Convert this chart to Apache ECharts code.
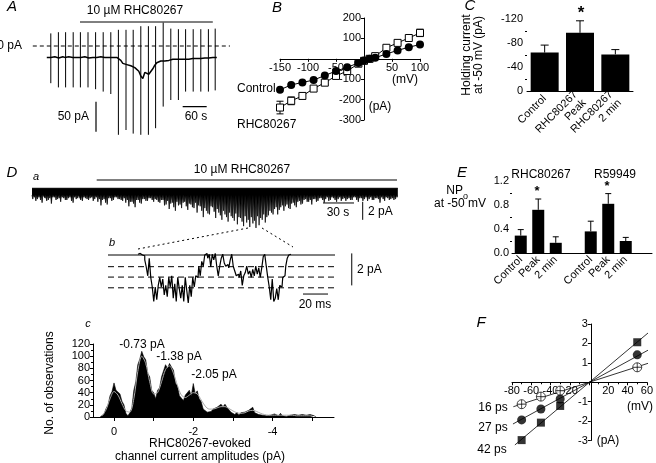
<!DOCTYPE html>
<html><head><meta charset="utf-8">
<script src="https://cdn.jsdelivr.net/npm/echarts@6/dist/echarts.min.js"></script>
<style>html,body{margin:0;padding:0;background:#fff}#c{width:656px;height:463px}</style>
</head><body><div id="c"></div>
<script>
const FONT = '"Liberation Sans", Arial, Helvetica, sans-serif';

// ---------- Panel A : holding current trace (s, pA) ----------
const aSpikeTimes  = [57,76,94,113,131,150,169,188,207,226,245,263,282,301,319,338,357,376,394,413,432,451,468];
const aSpikeTop    = [21,23,23,23,23,23,23,23,23,27,27,27,33,33,33,39,29,28,28,28,28,28,29];
const aSpikeBottom = [-62,-69,-69,-69,-69,-69,-72,-76,-80,-148,-140,-146,-148,-148,-137,-101,-90,-90,-76,-76,-76,-76,-74];
const aTraceT0 = 47, aTraceDt = 5;
const aTrace = [-19,-18,-19,-19,-18,-19,-20,-19,-18,-19,-19,-18,-19,-19,-20,-19,-18,-19,-19,-18,-19,-20,-19,-19,-18,-19,-19,-18,-19,-19,-20,-19,-18,-19,-19,-19,
  -20,-24,-29,-26,-31,-28,-33,-30,-36,-34,-42,-50,-54,-44,-41,-47,-50,-38,-32,-28,-26,-25,-24,-25,-23,-24,-23,-22,-23,-22,
  -23,-22,-21,-22,-21,-22,-21,-21,-20,-21,-20,-21,-20,-20,-21,-20,-20,-19,-20,-19];

// ---------- Panel B : I-V (mV, pA) ----------
const bVoltage   = [-150,-130,-110,-90,-70,-50,-30,-10,0,10,20,40,60,80,100];
const bControl   = [-152,-128,-116,-104,-82,-60,-42,-20,-8,0,5,24,41,57,70];
const bControlErr= [6,6,5,5,5,5,4,4,3,3,3,4,4,5,6];
const bRHC       = [-239,-206,-182,-146,-117,-84,-60,-24,-10,0,13,54,78,102,127];
const bRHCErr    = [31,19,15,8,8,8,8,6,5,4,5,8,8,10,18];

// ---------- Panel C : holding current at -50 mV ----------
const cCategories = ['Control', 'RHC80267\nPeak', 'RHC80267\n2 min'];
const cValues = [-64, -97, -61];
const cErrors = [12.5, 20, 8];

// ---------- Panel D a : single-channel trace (s, pA) ----------
const daBin = 3, daTop = 0.3, daBand = -0.45;
const daMin = [-0.9,-1.1,-0.7,-1.3,-0.8,-1.0,-1.4,-0.7,-0.9,-1.2,-0.8,
 -1.0,-0.7,-1.3,-0.9,-0.6,-1.1,-0.8,-1.0,-0.7,-0.9,
 -1.2,-1.6,-0.9,-1.5,-0.8,-1.0,-0.7,-0.9,-1.1,-1.3,
 -1.7,-1.2,-1.8,-1.0,-1.4,-0.9,-1.1,-0.8,-1.2,-1.0,
 -1.3,-1.0,-1.5,-2.0,-1.3,-2.2,-1.6,-1.9,-1.2,-2.1,
 -1.5,-1.9,-2.4,-1.7,-2.9,-2.2,-2.6,-1.8,-3.0,-2.4,
 -3.2,-2.6,-3.4,-2.8,-3.3,-3.7,-3.0,-3.9,-3.5,-4.0,
 -3.6,-4.1,-3.8,-3.2,-3.5,-2.7,-2.4,-2.0,-2.6,-1.8,
 -2.2,-1.5,-2.0,-1.3,-1.8,-1.1,-1.4,-0.9,-1.2,-1.5,
 -0.9,-1.1,-0.8,-1.3,-0.7,-1.0,-0.8,-1.2,-0.7,-0.9,
 -1.1,-0.8,-1.0,-0.7,-1.2,-0.8,-0.9,-1.1,-0.7,-1.0,-0.8,-1.3,-0.9,-0.7,-1.0,-0.8,-0.9];
const daMin2 = [-0.7,-0.9,-1.0,-0.6,-1.1,-0.8,-0.7,-1.0,-0.8,-0.7,-1.0,
 -0.8,-1.1,-0.7,-0.8,-1.0,-0.7,-0.9,-0.8,-1.1,-0.7,
 -0.9,-1.0,-1.3,-0.8,-1.1,-0.7,-0.9,-1.0,-0.8,-1.0,
 -1.2,-1.4,-1.0,-1.3,-0.9,-1.1,-0.8,-1.0,-0.9,-1.2,
 -1.0,-1.6,-1.1,-1.4,-1.8,-1.2,-1.5,-1.3,-1.7,-1.4,
 -1.8,-1.3,-1.6,-2.2,-1.9,-2.5,-1.7,-2.3,-2.0,-2.7,
 -2.2,-2.9,-2.4,-3.0,-2.5,-2.9,-3.4,-2.8,-3.2,-2.9,
 -3.3,-2.8,-3.0,-2.6,-2.9,-2.2,-2.6,-1.8,-2.1,-1.6,
 -1.7,-1.9,-1.4,-1.6,-1.2,-1.5,-1.0,-1.2,-1.0,-0.9,
 -1.2,-0.8,-1.0,-0.9,-1.1,-0.7,-1.0,-0.9,-1.1,-0.8,
 -0.9,-1.0,-0.7,-1.0,-0.8,-1.1,-0.7,-0.9,-1.0,-0.8,-0.9,-0.7,-1.1,-0.8,-0.9,-1.0,-0.7];

// ---------- Panel D b : expanded trace (ms, pA) ----------
const dbT0 = 24, dbDt = 1.2;
const dbTrace = [0.05,0.1,0.05,0.0,-0.05,-0.3,-0.75,-1.3,-0.2,-1.4,
 -2.0,-2.9,-2.0,-2.8,-1.9,-1.4,-2.0,-1.5,-2.5,-1.9,
 -2.6,-1.4,-2.0,-1.3,-2.7,-1.8,-2.9,-1.4,-2.1,-2.7,
 -1.9,-2.9,-1.4,-2.2,-3.0,-1.9,-2.6,-1.4,-2.0,-1.3,
 -1.4,-0.7,-1.3,-0.4,-0.7,0.0,0.1,-0.2,0.05,-0.75,
 0.05,-0.3,0.1,-0.7,-1.3,-0.7,-0.2,0.05,-0.5,-0.7,
 -0.6,-0.8,-0.3,0.05,-0.7,-1.0,-1.3,-1.2,-1.4,-1.0,
 -1.9,-1.3,-1.1,-0.7,-1.2,-1.0,-1.4,-0.9,-1.3,-0.7,
 -1.2,-0.8,-1.4,-0.8,-0.1,0.05,-0.7,-1.4,-2.0,-2.8,
 -1.5,-2.9,-2.7,-2.1,-2.8,-1.9,-2.0,-1.4,-1.3,-0.7,
 -0.2,0.0,0.05];
const dbLevels = [0, -0.73, -1.38, -2.05];
const dbLevelEnd = 181.6;

// ---------- Panel D c : amplitude histogram ----------
const histStart = 0.35, histStep = -0.05;
const histCounts = [0,3,5,14,20,35,42,56,44,41,
 38,26,20,6,2,7,15,44,58,86,
 95,108,99,94,72,66,44,40,30,44,
 48,66,68,86,80,88,82,77,56,51,
 35,34,27,36,33,44,35,55,38,43,
 30,25,13,14,8,11,9,13,11,16,
 15,21,17,21,16,18,8,7,4,8,
 3,7,4,8,6,11,10,16,7,8,
 4,6,3,5,2,4,3,2,5,3,
 2,6,2,5,1,4,3,2,4,1,
 3,1,4,2,3,2,4,1,2,0];
const fitStart = 0.3, fitStep = -0.1;
const fitCounts = [2,12,30,42,36,22,10,8,30,75,100,88,58,38,40,58,78,84,72,52,36,32,36,40,38,28,18,13,13,15,17,17,14,10,7,6,7,10,11,9,6,4,3,3,3,3,3,3,3,2,2,2,2,2];
const histTickLabels = [0, -2, -4];
const histTicks = [0, -1, -2, -3, -4, -5];

// ---------- Panel E : NPo ----------
const eCategories = ['Control','Peak','2 min','','Control','Peak','2 min',''];
const eValues = [0.29,0.72,0.17,null,0.36,0.82,0.20,null];
const eErrors = [0.10,0.18,0.10,null,0.17,0.17,0.06,null];

// ---------- Panel F : unitary I-V ----------
const fVoltage = [-70,-50,-30,50];
const f42 = [-2.98,-2.08,-1.22,2.06];
const f27 = [-1.94,-1.38,-0.86,1.41];
const f16 = [-1.13,-0.74,-0.43,0.77];
const fFit42 = [[-77,-3.23],[61.5,2.55]];
const fFit27 = [[-79,-2.15],[61.5,1.66]];
const fFit16 = [[-78.6,-1.26],[61.5,0.98]];

// ================= build =================
function mk(o){
  const b = {axisLine:{onZero:false, lineStyle:{color:'#000',width:1}}, axisTick:{length:3,lineStyle:{color:'#000'}},
    axisLabel:{color:'#000',fontSize:11,fontFamily:FONT}, splitLine:{show:false}, minorTick:{show:false}};
  for (const k in o){ if (b[k] && typeof o[k]==='object' && !Array.isArray(o[k])) b[k]=Object.assign(b[k],o[k]); else b[k]=o[k]; }
  return b;
}
const hide0 = v => (Math.abs(v) < 1e-9 ? '' : String(v));
function seg(i, data, opts){ return Object.assign({type:'line', xAxisIndex:i, yAxisIndex:i, data, symbol:'none', silent:true,
  lineStyle:{color:'#000', width:1}, z:3}, opts||{}); }
function errSeries(i, data, cap, topOnly, z){
  return {type:'custom', xAxisIndex:i, yAxisIndex:i, data, silent:true, z:z||2,
    renderItem:(p, api)=>{
      const x=api.value(0), a=api.value(1), b=api.value(2);
      const p1=api.coord([x,a]), p2=api.coord([x,b]);
      const st={stroke:'#000', lineWidth:1};
      const ch=[{type:'line', shape:{x1:p1[0],y1:p1[1],x2:p2[0],y2:p2[1]}, style:st}];
      if (cap>0){
        if(!topOnly) ch.push({type:'line', shape:{x1:p1[0]-cap,y1:p1[1],x2:p1[0]+cap,y2:p1[1]}, style:st});
        ch.push({type:'line', shape:{x1:p2[0]-cap,y1:p2[1],x2:p2[0]+cap,y2:p2[1]}, style:st});
      }
      return {type:'group', children:ch};
    }};
}

const grids = [
  {left:28, top:19, width:208, height:120},   // A
  {left:280, top:18, width:140, height:102},  // B
  {left:527, top:19, width:106, height:72},   // C
  {left:32, top:170, width:365, height:60},   // D a
  {left:108, top:245, width:250, height:60},  // D b
  {left:93, top:344, width:241, height:73},   // D c
  {left:512, top:181, width:140, height:72},  // E
  {left:512, top:324, width:138, height:116.5}// F
];
// distance (px) from grid bottom / left edge to the zero lines where the axes cross
const bZeroFromBottom = 300*102/500, bZeroFromLeft = 150*140/250;
const fZeroFromBottom = 116.5/2, fZeroFromLeft = 80*138/140;

const xAxes = [
  {gridIndex:0, type:'value', min:0, max:520, show:false},
  mk({gridIndex:1, type:'value', min:-150, max:100, interval:50, offset:-bZeroFromBottom, axisLabel:{formatter:hide0, margin:4}}),
  mk({gridIndex:2, type:'category', data:cCategories, axisTick:{show:false}, axisLabel:{rotate:45, interval:0, margin:6, lineHeight:12}}),
  {gridIndex:3, type:'value', min:0, max:353.2, show:false},
  {gridIndex:4, type:'value', min:0, max:200, show:false},
  mk({gridIndex:5, type:'value', inverse:true, min:-5.55, max:0.53, axisLabel:{customValues:histTickLabels, margin:9, formatter:v=>String(v)}, axisTick:{customValues:histTicks, length:4}}),
  mk({gridIndex:6, type:'category', data:eCategories, axisTick:{show:false}, axisLabel:{rotate:45, interval:0, margin:5}}),
  mk({gridIndex:7, type:'value', min:-80, max:60, interval:20, offset:-fZeroFromBottom, minorTick:{show:true, splitNumber:2, length:2, lineStyle:{color:'#000'}}, axisLabel:{formatter:hide0, margin:3}})
];
const yAxes = [
  {gridIndex:0, type:'value', min:-155, max:45, show:false},
  mk({gridIndex:1, type:'value', min:-300, max:200, interval:100, offset:-bZeroFromLeft, axisLabel:{formatter:hide0, margin:3}}),
  mk({gridIndex:2, type:'value', inverse:true, min:-120, max:0, interval:40, axisLabel:{margin:4}, minorTick:{show:true, splitNumber:2, length:2, lineStyle:{color:'#000'}}}),
  {gridIndex:3, type:'value', min:-4.33, max:2.33, show:false},
  {gridIndex:4, type:'value', min:-3.125, max:0.625, show:false},
  mk({gridIndex:5, type:'value', min:0, max:120, interval:20, axisLabel:{margin:3}, minorTick:{show:true, splitNumber:2, length:2, lineStyle:{color:'#000'}}}),
  mk({gridIndex:6, type:'value', min:0, max:1.2, interval:0.4, axisLabel:{formatter:v=>v.toFixed(1), margin:3}, minorTick:{show:true, splitNumber:2, length:2, lineStyle:{color:'#000'}}}),
  mk({gridIndex:7, type:'value', min:-3, max:3, interval:1, offset:-fZeroFromLeft, axisLabel:{formatter:hide0, margin:3}})
];

const series = [];
// ---- A ----
series.push(seg(0, aTrace.map((v,i)=>[aTraceT0 + i*aTraceDt, v]), {lineStyle:{color:'#000', width:1.5}}));
series.push(errSeries(0, aSpikeTimes.map((t,i)=>[t, aSpikeTop[i], aSpikeBottom[i]]), 0));
series.push(seg(0, [[12,0],[505,0]], {lineStyle:{color:'#000', width:1, type:[4,3]}}));
series.push(seg(0, [[130,40],[462,40]]));
series.push(seg(0, [[170,-93],[170,-143]], {lineStyle:{color:'#000', width:1.2}}));   // 50 pA
series.push(seg(0, [[386.7,-101],[446.7,-101]], {lineStyle:{color:'#000', width:1.2}})); // 60 s
// ---- B ----
series.push(errSeries(1, bVoltage.map((v,i)=>[v, bRHC[i]-bRHCErr[i], bRHC[i]+bRHCErr[i]]), 3.5));
series.push(errSeries(1, bVoltage.map((v,i)=>[v, bControl[i]-bControlErr[i], bControl[i]+bControlErr[i]]), 3));
series.push({type:'line', xAxisIndex:1, yAxisIndex:1, data:bVoltage.map((v,i)=>[v,bRHC[i]]), symbol:'rect', symbolSize:7,
  itemStyle:{color:'#fff', borderColor:'#000', borderWidth:1}, lineStyle:{color:'#000', width:1}, z:4, silent:true});
series.push({type:'line', xAxisIndex:1, yAxisIndex:1, data:bVoltage.map((v,i)=>[v,bControl[i]]), symbol:'circle', symbolSize:8,
  itemStyle:{color:'#000'}, lineStyle:{color:'#000', width:1}, z:5, silent:true});
// ---- C ----
series.push({type:'bar', xAxisIndex:2, yAxisIndex:2, data:cValues, barWidth:28, itemStyle:{color:'#000'}, silent:true, z:3});
series.push(errSeries(2, cValues.map((v,i)=>[i, v, v - cErrors[i]]), 4, true, 2));
// ---- D a : band with downward openings ----
const daPts = [];
daMin.forEach((m,i)=>{
  const t = i*daBin;
  daPts.push([t, daBand]); daPts.push([t + daBin*0.25, m]);
  daPts.push([t + daBin*0.5, daBand]); daPts.push([t + daBin*0.75, daMin2[i]]);
});
daPts.push([daMin.length*daBin, daBand]);
series.push(seg(3, daPts, {lineStyle:{color:'#000', width:0.7}, areaStyle:{color:'#000', opacity:1, origin:daTop}}));
series.push(seg(3, [[0,daTop],[daMin.length*daBin,daTop]], {lineStyle:{color:'#000', width:1}}));
series.push(seg(3, [[62.6,1.22],[353.2,1.22]]));
series.push(seg(3, [[281.6,-1.33],[311.6,-1.33]]));
series.push(seg(3, [[320,-1.2],[320,-3.2]]));
// ---- D b ----
dbLevels.forEach((L,k)=>{
  series.push(seg(4, [[0,L],[dbLevelEnd,L]], {lineStyle:{color:'#000', width:1, type: k===0 ? 'solid' : [6,4]}, z:2}));
});
series.push(seg(4, dbTrace.map((v,i)=>[dbT0 + i*dbDt, v]), {step:'middle', lineStyle:{color:'#000', width:1.2}, z:4}));
series.push(seg(4, [[156,-2.44],[176,-2.44]]));
series.push(seg(4, [[195,0.1],[195,-1.9]]));
// ---- D c ----
series.push(seg(5, histCounts.map((v,i)=>[histStart + i*histStep, v]), {areaStyle:{color:'#000', opacity:1}, lineStyle:{color:'#000', width:0.6}}));
series.push(seg(5, fitCounts.map((v,i)=>[fitStart + i*fitStep, v]), {smooth:0.3, lineStyle:{color:'#aaa', width:1}, z:4}));
// ---- E ----
series.push({type:'bar', xAxisIndex:6, yAxisIndex:6, data:eValues, barWidth:12, itemStyle:{color:'#000'}, silent:true, z:3});
series.push(errSeries(6, eValues.map((v,i)=> v==null ? null : [i, v, v + eErrors[i]]).filter(d=>d), 3, true, 2));
// ---- F ----
[fFit42, fFit27, fFit16].forEach(f => series.push(seg(7, f, {clip:false, lineStyle:{color:'#000', width:0.8}})));
series.push({type:'scatter', xAxisIndex:7, yAxisIndex:7, data:fVoltage.map((v,i)=>[v,f42[i]]), symbol:'rect', symbolSize:8, itemStyle:{color:'#000'}, silent:true, z:5});
series.push({type:'scatter', xAxisIndex:7, yAxisIndex:7, data:fVoltage.map((v,i)=>[v,f27[i]]), symbol:'circle', symbolSize:9, itemStyle:{color:'#000'}, silent:true, z:5});
series.push({type:'scatter', xAxisIndex:7, yAxisIndex:7, data:fVoltage.map((v,i)=>[v,f16[i]]),
  symbol:'path://M0,10A10,10,0,1,1,20,10A10,10,0,1,1,0,10ZM10,0L10,20M0,10L20,10', symbolSize:9,
  itemStyle:{color:'#fff', borderColor:'#000', borderWidth:0.9}, silent:true, z:5});

// ---- text ----
function T(text, x, y, o){
  o = o || {};
  return {type:'text', x, y, silent:true, rotation:o.rot||0, z:10,
    style:{text, fill:'#000', fontSize:o.fs||12, fontFamily:FONT, fontStyle:o.it?'italic':'normal', fontWeight:o.bold?'bold':'normal',
      align:o.align||'center', verticalAlign:o.va||'middle', lineHeight:o.lh||14}};
}
const P = {fs:15, it:true};
const graphic = [
  T('A', 12, 7, P), T('B', 277, 8, P), T('C', 470, 6, P), T('D', 12, 173, P), T('E', 462, 173, P), T('F', 481, 323, P),
  T('10 \u00B5M RHC80267', 135, 11), T('0 pA', 22, 46, {align:'right'}), T('50 pA', 89, 117, {align:'right'}), T('60 s', 196, 117),
  T('(mV)', 405, 80), T('(pA)', 380, 107), T('Control', 237, 89, {align:'left'}), T('RHC80267', 237, 125, {align:'left'}),
  T('*', 581, 13, {fs:17, bold:true}),
  T('Holding current\nat -50 mV (pA)', 472.5, 55, {rot:Math.PI/2, lh:12}),
  T('a', 36, 177, {it:true, fs:11}), T('10 \u00B5M RHC80267', 242, 170), T('30 s', 338, 213), T('2 pA', 368, 212, {align:'left'}),
  T('b', 112, 243, {it:true, fs:11}), T('2 pA', 357, 270, {align:'left'}), T('20 ms', 315, 305),
  T('c', 88, 324, {it:true, fs:11}),
  T('-0.73 pA', 142, 345), T('-1.38 pA', 179, 357), T('-2.05 pA', 214, 375),
  T('No. of observations', 50, 383, {rot:Math.PI/2}),
  T('RHC80267-evoked', 200, 444), T('channel current amplitudes (pA)', 200, 457),
  T('RHC80267', 541, 175), T('R59949', 615, 175),
  T('NP', 463, 191, {align:'right'}), T('o', 463, 197, {align:'left', fs:9}), T('at -50 mV', 460, 204),
  T('*', 537, 191, {fs:13, bold:true}), T('*', 607, 186, {fs:13, bold:true}),
  T('16 ps', 493, 408), T('27 ps', 493, 428), T('42 ps', 492, 450),
  T('(mV)', 640, 407), T('(pA)', 608, 441),
  {type:'line', silent:true, shape:{x1:248,y1:228,x2:138,y2:249}, style:{stroke:'#000', lineWidth:1, lineDash:[2,3]}},
  {type:'line', silent:true, shape:{x1:262,y1:228,x2:293,y2:247}, style:{stroke:'#000', lineWidth:1, lineDash:[2,3]}}
];

const chart = echarts.init(document.getElementById('c'), null, {renderer:'canvas'});
chart.setOption({
  animation:false, backgroundColor:'#fff',
  textStyle:{fontFamily:FONT, color:'#000'},
  grid:grids, xAxis:xAxes, yAxis:yAxes, series, graphic
});
</script></body></html>
